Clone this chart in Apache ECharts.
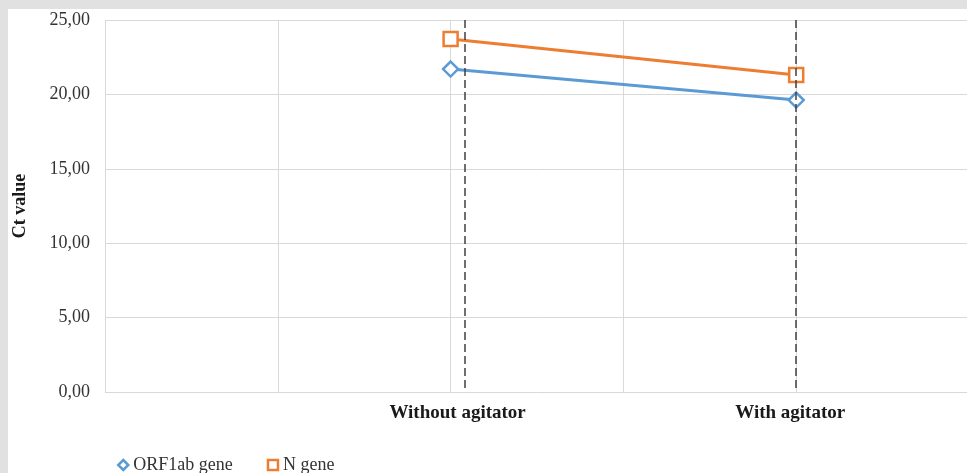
<!DOCTYPE html>
<html>
<head>
<meta charset="utf-8">
<script src="https://cdn.jsdelivr.net/npm/echarts@6/dist/echarts.min.js"></script>
<style>
  html, body { margin: 0; padding: 0; background: #e1e1e1; width: 967px; height: 473px; overflow: hidden; }
  #chart { position: absolute; left: 8px; top: 9px; width: 959px; height: 464px; background: #ffffff; }
</style>
</head>
<body>
<div id="chart"></div>
<script>
// Condition positions on the x scale and their labels
const conditionX = [2, 4];
const conditionLabels = ['Without agitator', 'With agitator'];
// Mean Ct values per gene
const orf1abCt = [21.70, 19.62];
const nGeneCt = [23.72, 21.30];
// Dashed guide lines at each condition
const guideX = [2.08, 4];
const yTicks = [0, 5, 10, 15, 20, 25];

const serif = '"Liberation Serif", "DejaVu Serif", serif';
const fmt = v => v.toFixed(2).replace('.', ',');

const chart = echarts.init(document.getElementById('chart'));
chart.setOption({
  animation: false,
  grid: { left: 97, top: 11, width: 864, height: 372, containLabel: false, outerBoundsMode: 'none' },
  xAxis: {
    type: 'value', min: 0, max: 5, interval: 1,
    axisLine: { show: false },
    axisTick: { show: false },
    splitLine: { show: true, lineStyle: { color: '#d9d9d9', width: 1 } },
    axisLabel: {
      margin: 12,
      fontFamily: serif, fontSize: 19, fontWeight: 'bold', color: '#1a1a1a',
      formatter: v => {
        const i = conditionX.indexOf(v);
        if (i < 0) return '';
        return '{c' + i + '|' + conditionLabels[i] + '}';
      },
      rich: {
        c0: { fontFamily: serif, fontSize: 19, fontWeight: 'bold', color: '#1a1a1a', padding: [0, 0, 0, 14] },
        c1: { fontFamily: serif, fontSize: 19, fontWeight: 'bold', color: '#1a1a1a', padding: [0, 12, 0, 0] }
      }
    }
  },
  yAxis: {
    type: 'value', min: yTicks[0], max: yTicks[yTicks.length - 1], interval: 5,
    name: 'Ct value', nameLocation: 'middle', nameGap: 76, nameRotate: 90,
    nameTextStyle: { fontFamily: serif, fontSize: 18, fontWeight: 'bold', color: '#1a1a1a' },
    axisLine: { show: false },
    axisTick: { show: false },
    splitLine: { show: true, lineStyle: { color: '#d9d9d9', width: 1 } },
    axisLabel: { margin: 15, fontFamily: serif, fontSize: 18, color: '#333333', formatter: fmt }
  },
  legend: {
    left: 104, top: 442, itemWidth: 10, itemHeight: 10, itemGap: 34,
    textStyle: { fontFamily: serif, fontSize: 18, color: '#333333' },
    data: [
      { name: 'ORF1ab gene', icon: 'diamond', itemStyle: { color: '#ffffff', borderColor: '#5b9bd5', borderWidth: 2.5 } },
      { name: 'N gene', icon: 'rect', itemStyle: { color: '#ffffff', borderColor: '#ed7d31', borderWidth: 2.5 } }
    ]
  },
  series: [
    {
      name: 'ORF1ab gene', type: 'line',
      data: conditionX.map((x, i) => [x, orf1abCt[i]]),
      symbol: 'diamond', symbolSize: 15,
      lineStyle: { color: '#5b9bd5', width: 3 },
      itemStyle: { color: '#ffffff', borderColor: '#5b9bd5', borderWidth: 2.5 },
      z: 3,
      markLine: {
        silent: true, symbol: 'none', label: { show: false },
        lineStyle: { color: '#404040', type: [8, 4], width: 1.5 },
        data: guideX.map(x => [{ coord: [x, 25] }, { coord: [x, 0] }])
      }
    },
    {
      name: 'N gene', type: 'line',
      data: conditionX.map((x, i) => [x, nGeneCt[i]]),
      symbol: 'rect', symbolSize: 14,
      lineStyle: { color: '#ed7d31', width: 3 },
      itemStyle: { color: '#ffffff', borderColor: '#ed7d31', borderWidth: 2.5 },
      z: 3
    }
  ]
});
</script>
</body>
</html>
